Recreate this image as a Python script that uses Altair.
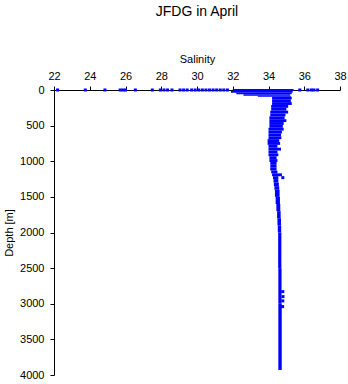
import altair as alt
import pandas as pd

# ---- data ----
# band of dense observations: depth interval (top, bottom) and salinity range
band_top = [-14, 14, 40, 60, 80, 95, 130, 170, 210, 250, 290, 330, 370, 410, 450, 490,
            530, 570, 610, 650, 690, 730, 770, 810, 850, 890, 930, 970, 1010, 1050,
            1090, 1130, 1170, 1210, 1250, 1300, 1350, 1400, 1500, 1600, 1700, 1800,
            1900, 2000, 2500, 3000]
band_bot = [14, 40, 60, 80, 95, 130, 170, 210, 250, 290, 330, 370, 410, 450, 490, 530,
            570, 610, 650, 690, 730, 770, 810, 850, 890, 930, 970, 1010, 1050, 1090,
            1130, 1170, 1210, 1250, 1300, 1350, 1400, 1500, 1600, 1700, 1800, 1900,
            2000, 2500, 3000, 3930]
band_smin = [32.0, 31.9, 32.2, 32.6, 33.4, 34.2, 34.2, 34.2, 34.15, 34.15, 34.1, 34.1,
             34.05, 34.05, 34.05, 34.05, 34.0, 34.0, 34.0, 34.0, 33.95, 33.95, 34.0,
             34.0, 34.0, 34.0, 34.05, 34.05, 34.1, 34.1, 34.1, 34.15, 34.2, 34.25,
             34.28, 34.3, 34.33, 34.36, 34.4, 34.44, 34.48, 34.5, 34.52, 34.54, 34.55,
             34.55]
band_smax = [35.4, 35.35, 35.3, 35.2, 35.25, 35.3, 35.25, 35.3, 35.1, 35.0, 35.1, 34.95,
             34.9, 35.0, 34.85, 34.8, 34.85, 34.75, 34.7, 34.72, 34.6, 34.65, 34.5,
             34.7, 34.5, 34.55, 34.45, 34.5, 34.45, 34.45, 34.45, 34.5, 34.75, 34.55,
             34.55, 34.58, 34.6, 34.62, 34.64, 34.66, 34.68, 34.7, 34.71, 34.72, 34.73,
             34.74]

# scattered single observations
pt_sal = [22.2, 23.75, 24.85, 25.7, 25.85, 26.0, 26.55, 27.5, 27.95, 28.15, 28.35, 28.6,
          29.05, 29.25, 29.45, 29.7, 29.9, 30.1, 30.3, 30.5, 30.7, 30.9, 31.1, 31.3,
          31.5, 31.7, 35.75, 36.2, 36.4, 36.55, 36.75,
          34.8, 34.81, 34.8, 34.79, 34.8]
pt_dep = [0, 0, 0, 0, 0, 0, 0, 0, 0, 0, 0, 0,
          0, 0, 0, 0, 0, 0, 0, 0, 0, 0, 0, 0,
          0, 0, 0, 0, 0, 0, 0,
          2830, 2900, 2960, 3040, 1230]

x_ticks = [22, 24, 26, 28, 30, 32, 34, 36, 38]
y_ticks = [0, 500, 1000, 1500, 2000, 2500, 3000, 3500, 4000]

band = pd.DataFrame({"dtop": band_top, "dbot": band_bot,
                     "smin": band_smin, "smax": band_smax})
pts = pd.DataFrame({"sal": pt_sal, "dep": pt_dep})

FONT = "Liberation Sans"
BLUE = "#0000ff"

xscale = alt.Scale(domain=[22, 38], nice=False, zero=False)
yscale = alt.Scale(domain=[0, 4000], reverse=True, nice=False, zero=False)

xaxis = alt.Axis(orient="top", title="Salinity", values=x_ticks,
                 format="d", labelFlush=False, labelOverlap=False, grid=False,
                 tickSize=4, labelPadding=5, titlePadding=6)
yaxis = alt.Axis(orient="left", title="Depth [m]", values=y_ticks,
                 format="d", labelFlush=False, labelOverlap=False, grid=False,
                 tickSize=4, labelPadding=6, titlePadding=5)

rects = alt.Chart(band).mark_rect(color=BLUE).encode(
    x=alt.X("smin:Q", scale=xscale, axis=xaxis, title="Salinity"),
    x2="smax:Q",
    y=alt.Y("dtop:Q", scale=yscale, axis=yaxis, title="Depth [m]"),
    y2="dbot:Q",
)

points = alt.Chart(pts).mark_square(color=BLUE, size=9, opacity=1).encode(
    x=alt.X("sal:Q", scale=xscale, axis=xaxis, title="Salinity"),
    y=alt.Y("dep:Q", scale=yscale, axis=yaxis, title="Depth [m]"),
)

chart = alt.layer(rects, points).properties(
    width=286,
    height=285,
    autosize=alt.AutoSizeParams(type="none"),
    padding={"left": 54, "top": 90, "right": 8, "bottom": 9},
    title=alt.TitleParams("JFDG in April", font=FONT, fontSize=14,
                          fontWeight="normal", color="black", anchor="middle",
                          offset=34),
).configure_view(stroke=None).configure_axis(
    labelFont=FONT, titleFont=FONT, labelFontSize=11, titleFontSize=11,
    titleFontWeight="normal", labelColor="black", titleColor="black",
    domainColor="black", tickColor="black", domainWidth=1, tickWidth=1,
    labelOverlap=False,
)

chart.save("out.html", embed_options={"renderer": "svg", "actions": False})
